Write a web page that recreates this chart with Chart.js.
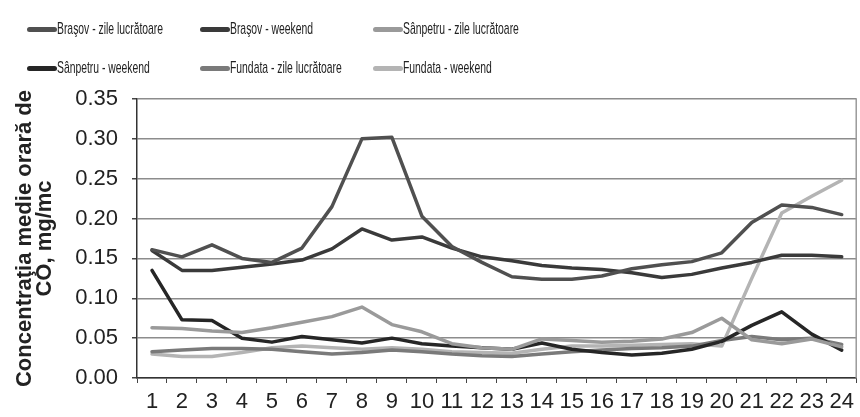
<!DOCTYPE html>
<html>
<head>
<meta charset="utf-8">
<script src="https://cdn.jsdelivr.net/npm/chart.js@4"></script>
<style>
  html, body { margin: 0; padding: 0; background: #fff; }
  #wrap { position: relative; width: 860px; height: 417px; }
  #chart { position: absolute; left: 0; top: 0; }
  .leg { position: absolute; height: 20px; display: flex; align-items: center; white-space: nowrap;
         font-family: 'Liberation Sans', Arial, sans-serif; font-size: 17px; color: #222; }
  .leg .sw { width: 30px; height: 5px; border-radius: 3px; flex: none; }
  .leg .tx { display: inline-block; transform: scaleX(0.61); transform-origin: left center; }
</style>
</head>
<body>
<div id="wrap">
  <canvas id="chart" width="860" height="417"></canvas>
  <div id="legend"></div>
</div>
<script>
// hours of the day
var hours = ['1', '2', '3', '4', '5', '6', '7', '8', '9', '10', '11', '12',
             '13', '14', '15', '16', '17', '18', '19', '20', '21', '22', '23', '24'];
var yTickLabels = ['0.00', '0.05', '0.10', '0.15', '0.20', '0.25', '0.30', '0.35'];

// mean hourly CO, mg/mc
var brasovWork = [0.161, 0.152, 0.167, 0.150, 0.145, 0.163, 0.215, 0.300, 0.302, 0.203, 0.165, 0.145,
                  0.127, 0.124, 0.124, 0.128, 0.137, 0.142, 0.146, 0.157, 0.195, 0.217, 0.214, 0.205];
var brasovWeekend = [0.160, 0.135, 0.135, 0.139, 0.143, 0.148, 0.162, 0.187, 0.173, 0.177, 0.163, 0.152,
                     0.147, 0.141, 0.138, 0.136, 0.132, 0.126, 0.130, 0.138, 0.145, 0.154, 0.154, 0.152];
var sanpetruWork = [0.063, 0.062, 0.059, 0.057, 0.063, 0.070, 0.077, 0.089, 0.067, 0.058, 0.043, 0.038,
                    0.036, 0.049, 0.047, 0.045, 0.046, 0.049, 0.057, 0.075, 0.048, 0.043, 0.049, 0.039];
var sanpetruWeekend = [0.135, 0.073, 0.072, 0.050, 0.045, 0.052, 0.048, 0.044, 0.050, 0.043, 0.040, 0.038,
                       0.036, 0.044, 0.036, 0.032, 0.029, 0.031, 0.036, 0.046, 0.066, 0.083, 0.055, 0.035];
var fundataWork = [0.033, 0.035, 0.037, 0.037, 0.036, 0.033, 0.030, 0.032, 0.035, 0.033, 0.030, 0.028,
                   0.027, 0.030, 0.033, 0.035, 0.037, 0.038, 0.040, 0.047, 0.052, 0.048, 0.050, 0.042];
var fundataWeekend = [0.030, 0.027, 0.027, 0.032, 0.038, 0.040, 0.038, 0.036, 0.038, 0.036, 0.033, 0.032,
                      0.031, 0.036, 0.040, 0.040, 0.041, 0.042, 0.043, 0.040, 0.125, 0.207, 0.228, 0.248];

var seriesNames = ['Braşov - zile lucrătoare', 'Braşov - weekend', 'Sânpetru - zile lucrătoare',
                   'Sânpetru - weekend', 'Fundata - zile lucrătoare', 'Fundata - weekend'];
var seriesData = [brasovWork, brasovWeekend, sanpetruWork, sanpetruWeekend, fundataWork, fundataWeekend];
var seriesColors = ['#505050', '#3a3a3a', '#9a9a9a', '#262626', '#7a7a7a', '#b4b4b4'];

// legend grid: 3 columns x 2 rows
var legendSpots = [[27, 19], [200, 19], [373, 19], [27, 58], [200, 58], [373, 58]];
var legendBox = document.getElementById('legend');
seriesNames.forEach(function (name, i) {
  var item = document.createElement('div');
  item.className = 'leg';
  item.style.left = legendSpots[i][0] + 'px';
  item.style.top = legendSpots[i][1] + 'px';
  var sw = document.createElement('span');
  sw.className = 'sw';
  sw.style.background = seriesColors[i];
  var txt = document.createElement('span');
  txt.className = 'tx';
  txt.textContent = name;
  item.appendChild(sw);
  item.appendChild(txt);
  legendBox.appendChild(item);
});

// thin frame on the right side of the plot
var rightEdge = {
  id: 'rightEdge',
  beforeDatasetsDraw: function (chart) {
    var a = chart.chartArea, ctx = chart.ctx;
    ctx.save();
    ctx.strokeStyle = '#9a9a9a';
    ctx.lineWidth = 1.5;
    ctx.beginPath();
    ctx.moveTo(a.right - 0.5, a.top);
    ctx.lineTo(a.right - 0.5, a.bottom);
    ctx.stroke();
    ctx.restore();
  }
};

var tickFont = { family: "'Liberation Sans', Arial, sans-serif", size: 22 };

new Chart(document.getElementById('chart'), {
  type: 'line',
  data: {
    labels: hours,
    datasets: seriesData.map(function (d, i) {
      return {
        label: seriesNames[i],
        data: d,
        borderColor: seriesColors[i],
        backgroundColor: seriesColors[i],
        borderWidth: 3.5,
        borderJoinStyle: 'round',
        borderCapStyle: 'round',
        pointRadius: 0,
        tension: 0,
        fill: false
      };
    })
  },
  options: {
    responsive: false,
    animation: false,
    layout: { padding: { top: 99, right: 2, left: 0, bottom: 0 } },
    plugins: {
      legend: { display: false },
      tooltip: { enabled: false }
    },
    scales: {
      x: {
        offset: true,
        grid: { drawOnChartArea: false, drawTicks: true, tickLength: 5, offset: true, color: '#444' },
        border: { color: '#333', width: 1.5 },
        ticks: { font: tickFont, color: '#222', padding: 6, autoSkip: false, maxRotation: 0 },
        afterFit: function (s) { s.height = 39; }
      },
      y: {
        min: 0,
        max: 0.35,
        ticks: {
          stepSize: 0.05,
          font: tickFont,
          color: '#222',
          padding: 14,
          callback: function (v, i) { return yTickLabels[i]; }
        },
        grid: { color: '#8c8c8c', lineWidth: 1.5, tickLength: 5, tickColor: '#444' },
        border: { color: '#333', width: 1.5 },
        title: {
          display: true,
          text: ['Concentraţia medie orară de', 'CO, mg/mc'],
          color: '#222',
          font: { family: "'Liberation Sans', Arial, sans-serif", size: 22, weight: 'bold', lineHeight: 0.95 },
          padding: { top: 14, bottom: 0 }
        },
        afterFit: function (s) { s.width = 137; }
      }
    }
  },
  plugins: [rightEdge]
});
</script>
</body>
</html>
